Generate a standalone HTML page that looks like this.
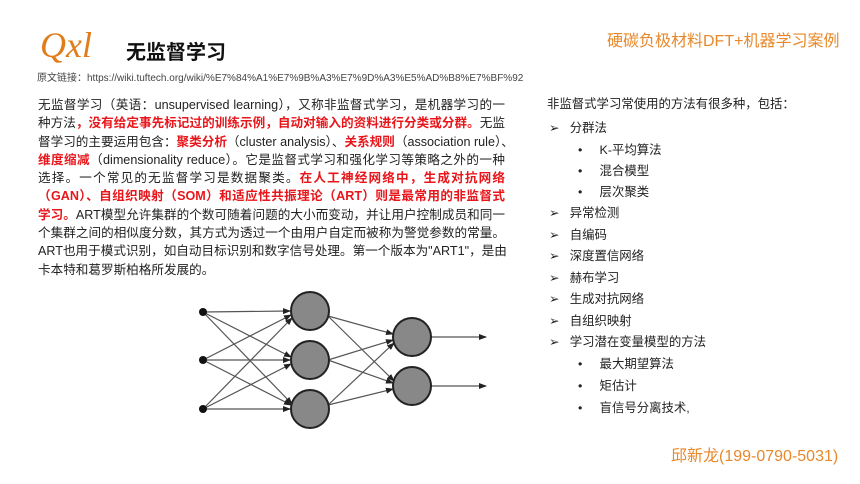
<!DOCTYPE html>
<html><head><meta charset="utf-8"><style>
body{margin:0;width:860px;height:484px;background:#fff;position:relative;overflow:hidden;font-family:"Liberation Sans","Noto Sans CJK SC",sans-serif;color:#222}
.a{position:absolute;white-space:nowrap}
.p div{width:467px;height:18.3px;line-height:18.3px;font-size:12.6px;white-space:nowrap;text-align:justify;text-align-last:justify}
.p div.last{text-align-last:left}
.r{color:#e8161b;font-weight:bold}
.l{position:absolute;font-size:12.4px;white-space:nowrap;line-height:16px}
</style></head><body>
<div class="a" style="left:40px;top:24px;font-family:'Liberation Serif',serif;font-style:italic;font-size:36px;color:#e07c1a">Qxl</div>
<div class="a" style="left:126px;top:36px;font-size:20px;font-weight:bold;color:#111">无监督学习</div>
<div class="a" style="left:37px;top:69px;font-size:10px;color:#444">原文链接：https://wiki.tuftech.org/wiki/%E7%84%A1%E7%9B%A3%E7%9D%A3%E5%AD%B8%E7%BF%92</div>
<div class="a" style="left:607px;top:27px;font-size:16px;color:#e8882a">硬碳负极材料DFT+机器学习案例</div>
<div class="a" style="left:671px;top:442px;font-size:16px;color:#e8882a">邱新龙(199-0790-5031)</div>
<div class="a p" style="left:38px;top:96px">
<div>无监督学习（英语：unsupervised learning），又称非监督式学习，是机器学习的一</div>
<div>种方法<span class="r">，没有给定事先标记过的训练示例，自动对输入的资料进行分类或分群。</span>无监</div>
<div>督学习的主要运用包含：<span class="r">聚类分析</span>（cluster analysis）、<span class="r">关系规则</span>（association rule）、</div>
<div><span class="r">维度缩减</span>（dimensionality reduce）。它是监督式学习和强化学习等策略之外的一种</div>
<div>选择。一个常见的无监督学习是数据聚类。<span class="r">在人工神经网络中，生成对抗网络</span></div>
<div><span class="r">（GAN）、自组织映射（SOM）和适应性共振理论（ART）则是最常用的非监督式</span></div>
<div><span class="r">学习。</span>ART模型允许集群的个数可随着问题的大小而变动，并让用户控制成员和同一</div>
<div>个集群之间的相似度分数，其方式为透过一个由用户自定而被称为警觉参数的常量。</div>
<div>ART也用于模式识别，如自动目标识别和数字信号处理。第一个版本为"ART1"，是由</div>
<div class="last">卡本特和葛罗斯柏格所发展的。</div>
</div>
<svg class="a" style="left:0;top:0" width="860" height="484">
<defs><marker id="m" markerWidth="8" markerHeight="6" refX="7" refY="3" orient="auto" markerUnits="userSpaceOnUse"><path d="M0,0L8,3L0,6z" fill="#222"/></marker></defs>
<g stroke="#555" stroke-width="1.2" marker-end="url(#m)">
<line x1="203" y1="312" x2="290" y2="311"/><line x1="203" y1="312" x2="291" y2="357"/><line x1="203" y1="312" x2="292" y2="404"/>
<line x1="203" y1="360" x2="291" y2="315"/><line x1="203" y1="360" x2="290" y2="360"/><line x1="203" y1="360" x2="291" y2="405"/>
<line x1="203" y1="409" x2="292" y2="318"/><line x1="203" y1="409" x2="291" y2="364"/><line x1="203" y1="409" x2="290" y2="409"/>
<line x1="328" y1="316" x2="393" y2="334"/><line x1="328" y1="316" x2="394" y2="381"/>
<line x1="328" y1="360" x2="393" y2="340"/><line x1="328" y1="360" x2="393" y2="383"/>
<line x1="328" y1="405" x2="394" y2="343"/><line x1="328" y1="405" x2="393" y2="389"/>
<line x1="431" y1="337" x2="486" y2="337"/><line x1="431" y1="386" x2="486" y2="386"/>
</g>
<g fill="#111"><circle cx="203" cy="312" r="4"/><circle cx="203" cy="360" r="4"/><circle cx="203" cy="409" r="4"/></g>
<g fill="#888" stroke="#222" stroke-width="2">
<circle cx="310" cy="311" r="19"/><circle cx="310" cy="360" r="19"/><circle cx="310" cy="409" r="19"/>
<circle cx="412" cy="337" r="19"/><circle cx="412" cy="386" r="19"/></g>
</svg>
<div class="l" style="left:547px;top:96px">非监督式学习常使用的方法有很多种，包括：</div>
<div class="l" style="left:549px;top:120px">➢&nbsp;&nbsp;&nbsp;分群法</div>
<div class="l" style="left:578px;top:142px">•&nbsp;&nbsp;&nbsp;&nbsp;&nbsp;K-平均算法</div>
<div class="l" style="left:578px;top:163px">•&nbsp;&nbsp;&nbsp;&nbsp;&nbsp;混合模型</div>
<div class="l" style="left:578px;top:184px">•&nbsp;&nbsp;&nbsp;&nbsp;&nbsp;层次聚类</div>
<div class="l" style="left:549px;top:205px">➢&nbsp;&nbsp;&nbsp;异常检测</div>
<div class="l" style="left:549px;top:227px">➢&nbsp;&nbsp;&nbsp;自编码</div>
<div class="l" style="left:549px;top:248px">➢&nbsp;&nbsp;&nbsp;深度置信网络</div>
<div class="l" style="left:549px;top:270px">➢&nbsp;&nbsp;&nbsp;赫布学习</div>
<div class="l" style="left:549px;top:291px">➢&nbsp;&nbsp;&nbsp;生成对抗网络</div>
<div class="l" style="left:549px;top:313px">➢&nbsp;&nbsp;&nbsp;自组织映射</div>
<div class="l" style="left:549px;top:334px">➢&nbsp;&nbsp;&nbsp;学习潜在变量模型的方法</div>
<div class="l" style="left:578px;top:356px">•&nbsp;&nbsp;&nbsp;&nbsp;&nbsp;最大期望算法</div>
<div class="l" style="left:578px;top:378px">•&nbsp;&nbsp;&nbsp;&nbsp;&nbsp;矩估计</div>
<div class="l" style="left:578px;top:400px">•&nbsp;&nbsp;&nbsp;&nbsp;&nbsp;盲信号分离技术,</div>
</body></html>
